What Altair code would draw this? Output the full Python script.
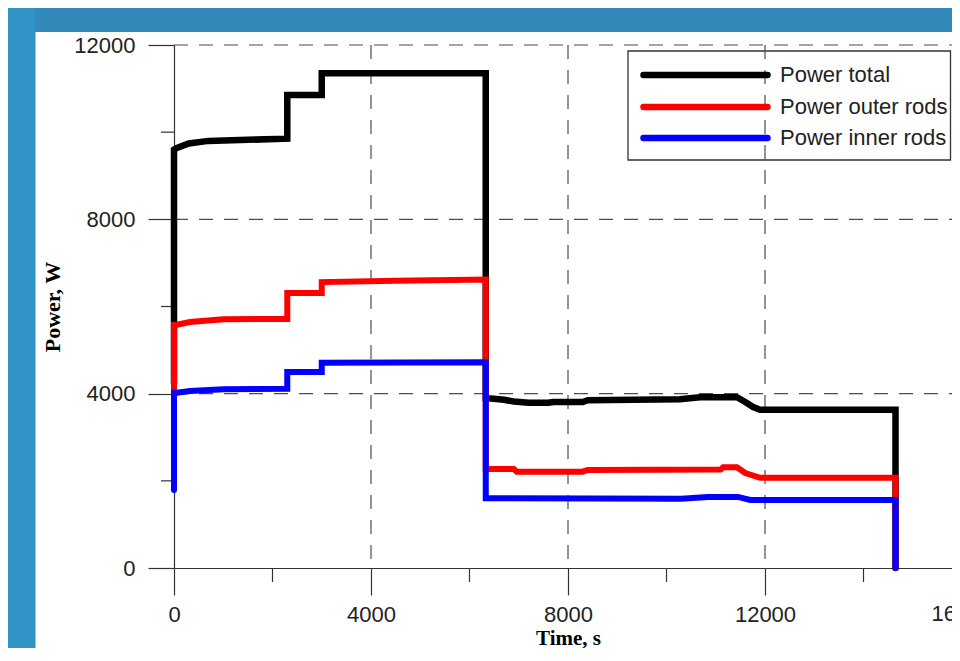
import altair as alt
import pandas as pd

# ---------------- data ----------------
series_names = ["Power total", "Power outer rods", "Power inner rods"]
series_colors = ["#000000", "#ff0000", "#0000ff"]

time_total = [0, 0, 60, 300, 700, 1340, 2300, 2300, 3000, 3000, 6330, 6330, 6700, 6900, 7200,
              7600, 7700, 8300, 8400, 10270, 10680, 11430, 11600, 11750, 11900, 14650, 14650]
power_total = [4250, 9600, 9640, 9740, 9800, 9820, 9850, 10850, 10850, 11350, 11350, 3900, 3860, 3820, 3790,
               3790, 3810, 3810, 3850, 3870, 3920, 3920, 3810, 3700, 3630, 3630, 0]

time_outer = [0, 0, 60, 325, 1000, 2300, 2300, 3000, 3000, 4500, 6330, 6330, 6900, 6960,
              8300, 8400, 11100, 11150, 11430, 11600, 11900, 14650, 14650]
power_outer = [2480, 5580, 5580, 5645, 5710, 5715, 6310, 6310, 6560, 6590, 6620, 2270, 2270, 2210,
               2210, 2250, 2260, 2310, 2310, 2180, 2070, 2070, 0]

time_inner = [0, 0, 60, 325, 1000, 2300, 2300, 3000, 3000, 6330, 6330, 10300, 10840, 11450, 11700, 14650, 14650]
power_inner = [1790, 4020, 4020, 4060, 4100, 4110, 4500, 4500, 4710, 4720, 1600, 1590, 1630, 1630, 1560, 1560, 0]

x_major = [0, 4000, 8000, 12000]
x_cut_label = [16000]      # tick label that is cut by the right edge
x_minor = [2000, 6000, 10000, 14000]
x_grid = [4000, 8000, 12000]
y_major = [0, 4000, 8000, 12000]
y_minor = [2000, 6000, 10000]
y_grid = [4000, 8000, 12000]

# ---------------- layout / style ----------------
W, H = 778, 523            # plot area (x axis is cut at the right edge, as in the reference)
X_MAX = 15797              # time value reached at the cut
PAD_L, PAD_T, PAD_B = 166, 37, 80
SANS = "Liberation Sans"
SERIF = "Liberation Serif"
AX = "#333333"
LBL = 22
LBL_PAD = 9

xscale = alt.Scale(domain=[0, X_MAX], nice=False, zero=False)
yscale = alt.Scale(domain=[0, 12000], nice=False, zero=False)

x_axis = alt.Axis(values=x_major, format="d", title="Time, s", grid=False,
                  labelFlush=False, labelOverlap=False, labelBound=False,
                  tickSize=27, tickWidth=1.2, tickColor=AX,
                  domainColor=AX, domainWidth=1.2,
                  labelFont=SANS, labelFontSize=LBL, labelColor="#222222", labelPadding=LBL_PAD,
                  titleFont=SERIF, titleFontSize=21, titleFontWeight="bold", titleColor="#000000",
                  titleX=394, titleY=70, titleAlign="center", titleBaseline="middle")
y_axis = alt.Axis(values=y_major, format="d", title="Power, W", grid=False,
                  labelFlush=False, labelOverlap=False,
                  tickSize=26, tickWidth=1.2, tickColor=AX,
                  domainColor=AX, domainWidth=1.2,
                  labelFont=SANS, labelFontSize=LBL, labelColor="#222222", labelPadding=13,
                  titleFont=SERIF, titleFontSize=22, titleFontWeight="bold", titleColor="#000000",
                  titleAngle=270, titleX=-122, titleY=261.5, titleAlign="center", titleBaseline="middle")


def X(field="t"):
    return alt.X(f"{field}:Q", scale=xscale, axis=x_axis)


def Y(field="p"):
    return alt.Y(f"{field}:Q", scale=yscale, axis=y_axis)


one = pd.DataFrame({"a": [0]})
layers = []

# slide background bands
layers.append(alt.Chart(one).mark_rect(fill="#3389b9").encode(
    x=alt.value(-PAD_L), x2=alt.value(W), y=alt.value(-PAD_T), y2=alt.value(-13)))
layers.append(alt.Chart(one).mark_rect(fill="#3194c6").encode(
    x=alt.value(-PAD_L), x2=alt.value(-138.5), y=alt.value(-PAD_T), y2=alt.value(H + PAD_B)))

# legend box (drawn beneath the grid, as in the reference)
layers.append(alt.Chart(one).mark_rect(fill="white", stroke="#333333", strokeWidth=1.3).encode(
    x=alt.value(454), x2=alt.value(W - 1.5), y=alt.value(6), y2=alt.value(115)))

# dashed grid
grid_style = dict(color="#4d4d4d", strokeWidth=1.2, strokeDash=[14, 11])
layers.append(alt.Chart(pd.DataFrame({"t": x_grid})).mark_rule(**grid_style).encode(
    x=X(), y=alt.value(0), y2=alt.value(H)))
layers.append(alt.Chart(pd.DataFrame({"p": y_grid})).mark_rule(**grid_style).encode(
    y=Y(), x=alt.value(0), x2=alt.value(W)))

# minor ticks
layers.append(alt.Chart(pd.DataFrame({"t": x_minor})).mark_rule(color=AX, strokeWidth=1.2).encode(
    x=X(), y=alt.value(H), y2=alt.value(H + 14)))
layers.append(alt.Chart(pd.DataFrame({"p": y_minor})).mark_rule(color=AX, strokeWidth=1.2).encode(
    y=Y(), x=alt.value(-13), x2=alt.value(0)))

# tick label at 16000, cut by the right edge of the picture
layers.append(alt.Chart(pd.DataFrame({"t": x_cut_label})).mark_text(
    align="center", baseline="top", font=SANS, fontSize=LBL, color="#222222").encode(
    x=X(), y=alt.value(H + 27 + LBL_PAD), text=alt.Text("t:Q", format="d")))

# data lines
series = [(time_total, power_total, 6.5), (time_outer, power_outer, 6), (time_inner, power_inner, 6)]
for (ts, ps, sw), color in zip(series, series_colors):
    df = pd.DataFrame({"t": ts, "p": ps, "i": list(range(len(ts)))})
    layers.append(alt.Chart(df).mark_line(color=color, strokeWidth=sw, strokeCap="round",
                                          strokeJoin="miter").encode(
        x=X(), y=Y(), order=alt.Order("i:Q")))

# legend entries
row_y = [30, 62, 93]
for name, color, ry in zip(series_names, series_colors, row_y):
    d = pd.DataFrame({"name": [name]})
    layers.append(alt.Chart(d).mark_rule(color=color, strokeWidth=6.5, strokeCap="round").encode(
        x=alt.value(469.5), x2=alt.value(593.5), y=alt.value(ry)))
    layers.append(alt.Chart(d).mark_text(align="left", baseline="middle", font=SANS, fontSize=LBL,
                                         color="#222222").encode(
        x=alt.value(606), y=alt.value(ry), text="name:N"))

chart = alt.layer(*layers).properties(
    width=W, height=H,
    autosize=alt.AutoSizeParams(type="none"),
    padding={"left": PAD_L, "top": PAD_T, "right": 0, "bottom": PAD_B},
).configure_view(stroke=None)

chart.save("out.html", embed_options={"renderer": "svg", "actions": False})
